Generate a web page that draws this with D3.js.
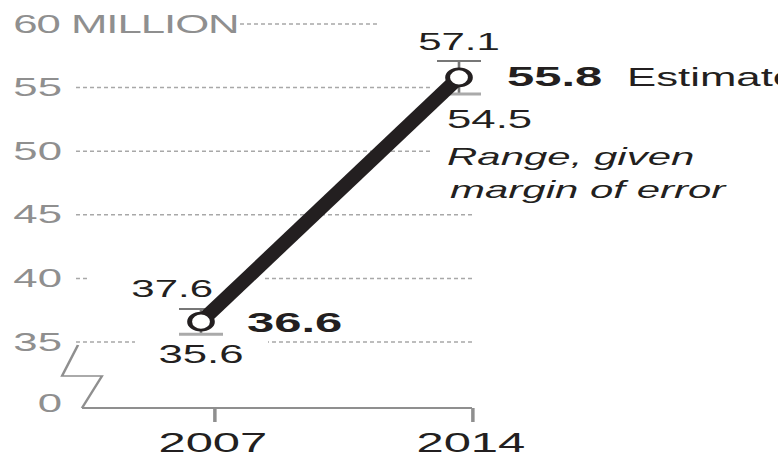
<!DOCTYPE html>
<html>
<head>
<meta charset="utf-8">
<script src="https://cdn.jsdelivr.net/npm/d3@7"></script>
<style>
  html, body { margin: 0; padding: 0; background: #fff; }
  svg { display: block; }
  text { font-family: "Liberation Sans", Arial, sans-serif; }
</style>
</head>
<body>
<script>
// chart data
var years = [2007, 2014];
var estimates = [36.6, 55.8];
var lows = [35.6, 54.5];
var highs = [37.6, 57.1];
var yTicks = [35, 40, 45, 50, 55, 60];
var yTickLabels = ["35", "40", "45", "50", "55", "60 MILLION"];
var xTickLabels = ["2007", "2014"];

var W = 778, H = 462;
// the original graphic is stretched horizontally, so draw in a narrower
// box and let the viewBox widen it
var S = 1.75;
var u = function(px) { return px / S; };

var svg = d3.select("body").append("svg")
  .attr("width", W)
  .attr("height", H)
  .attr("viewBox", "0 0 " + u(W) + " " + H)
  .attr("preserveAspectRatio", "none");

var x = d3.scaleLinear().domain([2007, 2014]).range([u(201), u(459)]);
var y = d3.scaleLinear().domain([35, 60]).range([342, 24]);
var yZero = 408;
var tickShift = u(13);
var xEnd = x(2014) + tickShift;

var grey = "#8f8f8f", ink = "#231f20";

// gridlines
svg.append("g").selectAll("line")
  .data(yTicks)
  .join("line")
  .attr("x1", function(d) { return d === 60 ? u(240) : u(76); })
  .attr("x2", function(d) { return d === 60 ? u(380) : xEnd; })
  .attr("y1", function(d) { return y(d); })
  .attr("y2", function(d) { return y(d); })
  .attr("stroke", "#a8a8a8")
  .attr("stroke-width", 1.5)
  .attr("stroke-dasharray", u(4) + " " + u(3));

// y labels
var yAxis = d3.axisLeft(y)
  .tickValues(yTicks)
  .tickSize(0)
  .tickPadding(0)
  .tickFormat(function(d, i) { return yTickLabels[i]; });

var gy = svg.append("g").attr("transform", "translate(" + u(62) + ",0)").call(yAxis);
gy.select(".domain").remove();
gy.selectAll("text")
  .attr("fill", grey)
  .attr("font-size", 25)
  .attr("font-family", "Liberation Sans, Arial, sans-serif");

// "60 MILLION": keep the 60 aligned with the other numbers
var topLabel = gy.selectAll(".tick").filter(function(d) { return d === 60; }).select("text");
var probe = svg.append("text").attr("font-size", 25).text("60");
var w60 = probe.node().getComputedTextLength();
probe.remove();
topLabel.attr("text-anchor", "start").attr("x", -w60).attr("letter-spacing", -0.6);

// zero label and axis break
svg.append("text")
  .attr("x", u(62)).attr("y", yZero + 4)
  .attr("text-anchor", "end")
  .attr("fill", grey)
  .attr("font-size", 25)
  .text("0");

svg.append("path")
  .attr("d", "M" + u(78) + "," + (y(35) + 3) + "L" + u(62) + ",376L" + u(102) + ",376L" + u(82) + "," + yZero)
  .attr("fill", "none")
  .attr("stroke", grey)
  .attr("stroke-width", 1.5);

// x axis
svg.append("line")
  .attr("x1", u(82)).attr("x2", xEnd)
  .attr("y1", yZero).attr("y2", yZero)
  .attr("stroke", grey).attr("stroke-width", 2);

var xAxis = d3.axisBottom(x)
  .tickValues(years)
  .tickSize(14)
  .tickPadding(10)
  .tickFormat(function(d, i) { return xTickLabels[i]; });

var gx = svg.append("g").attr("transform", "translate(" + tickShift + "," + yZero + ")").call(xAxis);
gx.select(".domain").remove();
gx.selectAll(".tick line").attr("stroke", grey).attr("stroke-width", 2);
gx.selectAll("text")
  .attr("fill", ink)
  .attr("font-size", 28)
  .attr("font-family", "Liberation Sans, Arial, sans-serif")
  .attr("x", -u(2));

// white patches behind the labels
var pads = [
  [u(432), 80, u(W) - u(432), 125],
  [u(90), 268, u(265) - u(90), 32],
  [u(135), 300, u(268) - u(135), 60]
];
svg.append("g").selectAll("rect")
  .data(pads)
  .join("rect")
  .attr("x", function(d) { return d[0]; })
  .attr("y", function(d) { return d[1]; })
  .attr("width", function(d) { return d[2]; })
  .attr("height", function(d) { return d[3]; })
  .attr("fill", "#fff");

// error ranges
var pts = years.map(function(yr, i) {
  return { year: yr, est: estimates[i], lo: lows[i], hi: highs[i] };
});

var rng = svg.append("g").selectAll("g").data(pts).join("g");
rng.append("line")
  .attr("x1", function(d) { return x(d.year); })
  .attr("x2", function(d) { return x(d.year); })
  .attr("y1", function(d) { return y(d.hi); })
  .attr("y2", function(d) { return y(d.lo); })
  .attr("stroke", "#777").attr("stroke-width", 1.5);
rng.append("line")
  .attr("x1", function(d) { return x(d.year) - u(22); })
  .attr("x2", function(d) { return x(d.year) + u(22); })
  .attr("y1", function(d) { return y(d.hi); })
  .attr("y2", function(d) { return y(d.hi); })
  .attr("stroke", "#777").attr("stroke-width", 2);
rng.append("line")
  .attr("x1", function(d) { return x(d.year) - u(22); })
  .attr("x2", function(d) { return x(d.year) + u(22); })
  .attr("y1", function(d) { return y(d.lo); })
  .attr("y2", function(d) { return y(d.lo); })
  .attr("stroke", "#aaa").attr("stroke-width", 3);

// trend line
svg.append("path")
  .datum(pts)
  .attr("d", d3.line().x(function(d) { return x(d.year); }).y(function(d) { return y(d.est); }))
  .attr("fill", "none")
  .attr("stroke", ink)
  .attr("stroke-width", 10);

svg.append("g").selectAll("ellipse")
  .data(pts)
  .join("ellipse")
  .attr("cx", function(d) { return x(d.year); })
  .attr("cy", function(d) { return y(d.est); })
  .attr("rx", 6.5)
  .attr("ry", 8.5)
  .attr("fill", "#fff")
  .attr("stroke", ink)
  .attr("stroke-width", 2.8);

// labels
function label(tx, ty, str, opts) {
  var t = svg.append("text")
    .attr("x", tx).attr("y", ty)
    .attr("fill", ink)
    .attr("font-size", opts.size || 25)
    .attr("text-anchor", opts.anchor || "start")
    .text(str);
  if (opts.bold) t.attr("font-weight", "bold");
  if (opts.italic) t.attr("font-style", "italic");
  return t;
}

// 2007
label(x(2007) + u(12), y(highs[0]) - 12, highs[0].toFixed(1), { anchor: "end", size: 24 });
label(x(2007) + u(46), y(estimates[0]) + 10, estimates[0].toFixed(1), { bold: true, size: 28 });
label(x(2007), y(lows[0]) + 29, lows[0].toFixed(1), { anchor: "middle", size: 25 });

// 2014
label(x(2014), y(highs[1]) - 11, highs[1].toFixed(1), { anchor: "middle", size: 24 });
label(x(2014) + u(48), y(estimates[1]) + 9, estimates[1].toFixed(1), { bold: true, size: 28 });
label(x(2014) + u(168), y(estimates[1]) + 9, "Estimate", { size: 25 });
label(x(2014) - u(12), y(lows[1]) + 34, lows[1].toFixed(1), { size: 25 });
label(x(2014) - u(12), 165, "Range, given", { italic: true, size: 24 });
label(x(2014) - u(9), 198, "margin of error", { italic: true, size: 24 });
</script>
</body>
</html>
